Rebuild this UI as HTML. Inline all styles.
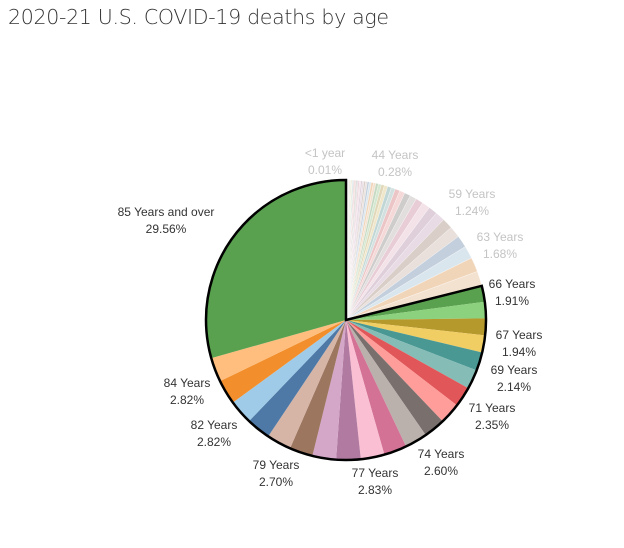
<!DOCTYPE html>
<html><head><meta charset="utf-8"><style>
body{margin:0;background:#fff;width:624px;height:548px;overflow:hidden;font-family:"Liberation Sans",sans-serif}
#title{position:absolute;left:8px;top:5px;font-size:20.5px;color:#333;font-family:"DejaVu Sans","Liberation Sans",sans-serif;font-weight:300;letter-spacing:-0.3px}
</style></head><body>
<div id="title">2020-21 U.S. COVID-19 deaths by age</div>
<svg id="chart" width="624" height="548" style="position:absolute;left:0;top:0"></svg>
<script>
// categories: <1 year, 1..84 Years, 85 Years and over
const categories = ["<1 year"].concat(Array.from({length:84},(_, i)=>(i+1)+" Years")).concat(["85 Years and over"]);
const youngValues = [0.01,0.004,0.004,0.004,0.004,0.004,0.004,0.004,0.004,0.004,0.004,0.004,0.004,0.004,0.004,
 0.01,0.015,0.02,0.03,0.035, 0.04,0.045,0.05,0.055,0.06, 0.065,0.07,0.075,0.08,0.09, 0.10,0.11,0.12,0.13,0.14,
 0.15,0.16,0.17,0.18,0.19, 0.20,0.22,0.24,0.26,0.28, 0.30,0.33,0.36,0.40,0.44, 0.48,0.55,0.62,0.70,0.78,
 0.86,0.94,1.02,1.12,1.24, 1.32,1.40,1.48,1.68,1.72, 1.85];
const oldValues = [1.91,1.94,2.0,2.14,2.25,2.35,2.45,2.5,2.6,2.65,2.75,2.83,2.75,2.7,2.85,2.8,2.82,2.85,2.82,29.56];
const values = youngValues.concat(oldValues);
const highlightStart = 65;
const palette = ["#4E79A7","#A0CBE8","#F28E2B","#FFBE7D","#59A14F","#8CD17D","#B6992D","#F1CE63","#499894","#86BCB6","#E15759","#FF9D9A","#79706E","#BAB0AC","#D37295","#FABFD2","#B07AA1","#D4A6C8","#9D7660","#D7B5A6"];
const labels = [
 {i:0,t:"<1 year",p:"0.01%",x:325,y:153},
 {i:44,t:"44 Years",p:"0.28%",x:395,y:155},
 {i:59,t:"59 Years",p:"1.24%",x:472,y:194},
 {i:63,t:"63 Years",p:"1.68%",x:500,y:237},
 {i:66,t:"66 Years",p:"1.91%",x:512,y:284},
 {i:67,t:"67 Years",p:"1.94%",x:519,y:335},
 {i:69,t:"69 Years",p:"2.14%",x:514,y:370},
 {i:71,t:"71 Years",p:"2.35%",x:492,y:408},
 {i:74,t:"74 Years",p:"2.60%",x:441,y:454},
 {i:77,t:"77 Years",p:"2.83%",x:375,y:473},
 {i:79,t:"79 Years",p:"2.70%",x:276,y:465},
 {i:82,t:"82 Years",p:"2.82%",x:214,y:425},
 {i:84,t:"84 Years",p:"2.82%",x:187,y:383},
 {i:85,t:"85 Years and over",p:"29.56%",x:166,y:212}
];
const NS="http://www.w3.org/2000/svg";
const svg=document.getElementById("chart");
const cx=346, cy=320, R=140;
const total=values.reduce((a,b)=>a+b,0);
function ang(v){return v/total*2*Math.PI;}
function pt(a,r){return [cx+r*Math.sin(a), cy-r*Math.cos(a)];}
function fade(hex){const n=parseInt(hex.slice(1),16);const c=[n>>16,(n>>8)&255,n&255].map(v=>Math.round(v*0.28+240*0.72));return "rgb("+c.join(",")+")";}
function arcPath(a0,a1){const p0=pt(a0,R),p1=pt(a1,R);const large=(a1-a0)>Math.PI?1:0;
 return "M"+cx+","+cy+"L"+p0[0]+","+p0[1]+"A"+R+","+R+" 0 "+large+" 1 "+p1[0]+","+p1[1]+"Z";}
let acc=0, hlA0=0;
values.forEach((v,k)=>{
 const a0=ang(acc), a1=ang(acc+v); acc+=v;
 if(k===highlightStart) hlA0=a0;
 const col=palette[(k+19)%20];
 const p=document.createElementNS(NS,"path");
 p.setAttribute("d",arcPath(a0,a1));
 p.setAttribute("fill",k>=highlightStart?col:fade(col));
 if(k<highlightStart){p.setAttribute("stroke","#fff");p.setAttribute("stroke-width","0.3");}
 
 
 svg.appendChild(p);
});
const ol=document.createElementNS(NS,"path");
ol.setAttribute("d",arcPath(hlA0,2*Math.PI-1e-6));
ol.setAttribute("fill","none");ol.setAttribute("stroke","#000");ol.setAttribute("stroke-width","2.5");


svg.appendChild(ol);
labels.forEach(l=>{
 const col=l.i>=highlightStart?"#333":"#c4c4c4";
 [l.t,l.p].forEach((s,j)=>{
  const t=document.createElementNS(NS,"text");
  t.setAttribute("x",l.x);t.setAttribute("y",l.y+j*17+4);
  t.setAttribute("text-anchor","middle");t.setAttribute("font-size","12");
  t.setAttribute("fill",col);t.setAttribute("font-family","Liberation Sans, sans-serif");
  t.textContent=s;
  
  
  svg.appendChild(t);
 });
});
</script>
</body></html>
